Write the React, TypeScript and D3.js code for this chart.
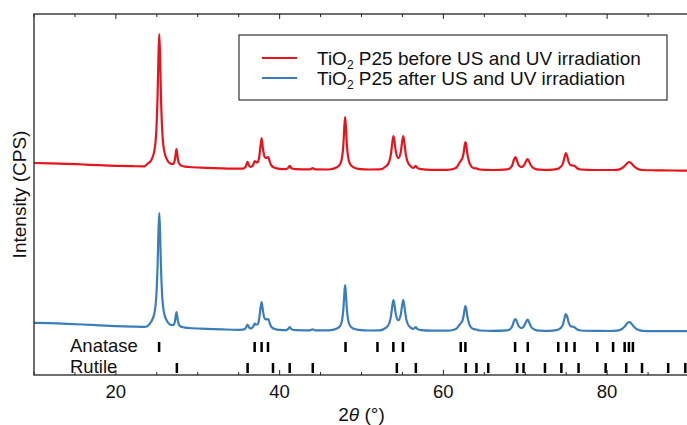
import React from 'react';
import * as d3 from 'd3';

type P = [number, number];

// 2θ (°), intensity (CPS, offset for display)
const beforeUS: P[] = [
  [10.0,2120],[12.0,2117],[14.0,2112],[16.0,2105],[18.0,2098],[20.0,2092],[22.0,2088],[23.5,2086],[23.9,2115],
  [24.3,2146],[24.7,2241],[24.95,2460],[25.1,2811],[25.2,3183],[25.3,3410],[25.4,3183],[25.5,2811],[25.65,2460],[25.9,2241],[26.3,2146],
  [26.6,2118],[27.0,2110],[27.2,2150],[27.3,2206],[27.4,2260],[27.5,2206],[27.6,2148],[27.8,2105],[28.2,2088],[29.0,2080],[31.0,2072],[33.0,2066],[35.0,2063],
  [35.5,2064],[35.8,2078],[35.95,2105],[36.08,2132],[36.2,2105],[36.4,2082],[36.6,2085],[36.8,2105],[36.95,2140],[37.1,2130],[37.3,2125],
  [37.5,2175],[37.65,2280],[37.8,2370],[37.95,2270],[38.1,2200],[38.3,2170],[38.5,2175],[38.62,2180],[38.8,2130],[39.0,2095],[39.4,2072],[40.0,2062],
  [40.8,2059],[41.05,2072],[41.25,2092],[41.45,2068],[42.0,2058],[43.7,2056],[44.05,2068],[44.35,2056],[46.0,2055],
  [47.0,2078],[47.4,2110],[47.65,2186],[47.8,2319],[47.9,2476],[48.0,2580],[48.1,2476],[48.2,2319],[48.35,2186],[48.6,2110],[49.0,2078],[49.6,2062],[51.0,2055],[52.2,2056],
  [53.0,2087],[53.4,2139],[53.6,2214],[53.75,2315],[53.9,2390],[54.05,2323],[54.2,2231],[54.5,2168],[54.8,2231],[54.95,2323],[55.1,2390],[55.25,2315],[55.4,2214],[55.6,2139],[56.0,2087],
  [56.3,2070],[56.5,2082],[56.62,2092],[56.8,2072],[57.3,2058],[58.5,2052],[60.5,2052],
  [61.3,2062],[61.7,2085],[61.95,2120],[62.15,2145],[62.35,2175],[62.5,2235],[62.6,2295],[62.7,2330],[62.8,2295],[62.9,2230],[63.05,2160],[63.3,2100],[63.7,2068],[64.05,2066],[64.4,2055],[66.0,2050],
  [67.8,2056],[68.2,2072],[68.45,2105],[68.65,2160],[68.8,2180],[68.95,2155],[69.15,2105],[69.5,2078],[69.8,2092],[70.0,2120],[70.18,2152],[70.3,2160],[70.45,2138],[70.7,2095],[71.1,2066],[71.7,2054],[73.0,2052],
  [73.8,2058],[74.3,2080],[74.6,2115],[74.8,2175],[74.95,2220],[75.1,2195],[75.3,2130],[75.55,2098],[75.8,2095],[76.0,2092],[76.3,2070],[76.8,2055],[78.5,2050],[80.3,2050],
  [81.2,2052],[81.8,2068],[82.2,2095],[82.5,2122],[82.7,2130],[82.95,2118],[83.25,2090],[83.7,2062],[84.3,2050],[86.0,2047],[88.0,2045],[90.0,2044],
];

const afterUS: P[] = [
  [10.0,522],[12.0,518],[14.0,512],[16.0,505],[18.0,496],[20.0,489],[22.0,484],[23.5,481],[23.9,492],
  [24.3,532],[24.7,615],[24.95,803],[25.1,1105],[25.2,1425],[25.3,1620],[25.4,1425],[25.5,1105],[25.65,803],[25.9,615],[26.3,532],
  [26.6,505],[27.0,498],[27.2,531],[27.3,582],[27.4,630],[27.5,582],[27.6,531],[27.8,492],[28.2,478],[29.0,470],[31.0,462],[33.0,456],[35.0,452],
  [35.5,453],[35.8,464],[35.95,485],[36.08,505],[36.2,485],[36.4,466],[36.6,470],[36.8,488],[36.95,515],[37.1,505],[37.3,505],
  [37.5,560],[37.65,660],[37.8,730],[37.95,650],[38.1,580],[38.3,555],[38.5,558],[38.62,560],[38.8,515],[39.0,480],[39.4,460],[40.0,451],
  [40.8,449],[41.05,462],[41.25,478],[41.45,458],[42.0,448],[43.7,447],[44.05,456],[44.35,447],[46.0,446],
  [47.0,464],[47.4,492],[47.65,558],[47.8,674],[47.9,809],[48.0,900],[48.1,809],[48.2,674],[48.35,558],[48.6,492],[49.0,464],[49.6,452],[51.0,445],[52.2,446],
  [53.0,474],[53.4,520],[53.6,589],[53.75,682],[53.9,750],[54.05,689],[54.2,605],[54.5,548],[54.8,605],[54.95,689],[55.1,750],[55.25,682],[55.4,589],[55.6,520],[56.0,474],
  [56.3,460],[56.5,472],[56.62,480],[56.8,462],[57.3,448],[58.5,443],[60.5,443],
  [61.3,452],[61.7,472],[61.95,500],[62.15,520],[62.35,548],[62.5,605],[62.6,660],[62.7,690],[62.8,660],[62.9,600],[63.05,540],[63.3,485],[63.7,458],[64.05,455],[64.4,445],[66.0,441],
  [67.8,446],[68.2,462],[68.45,495],[68.65,545],[68.8,560],[68.95,540],[69.15,495],[69.5,468],[69.8,482],[70.0,515],[70.18,545],[70.3,555],[70.45,530],[70.7,485],[71.1,456],[71.7,444],[73.0,442],
  [73.8,448],[74.3,468],[74.6,505],[74.8,570],[74.95,610],[75.1,590],[75.3,525],[75.55,488],[75.8,482],[76.0,478],[76.3,458],[76.8,445],[78.5,441],[80.3,440],
  [81.2,444],[81.8,460],[82.2,490],[82.5,522],[82.7,530],[82.95,515],[83.25,485],[83.7,455],[84.3,442],[86.0,439],[88.0,438],[90.0,438],
];

const anataseRefs = [25.28, 36.95, 37.8, 38.58, 48.05, 51.95, 53.89, 55.06, 62.12, 62.69, 68.76, 70.31, 74.03, 75.03, 76.02, 78.8, 80.73, 82.14, 82.66, 83.15];
const rutileRefs = [27.45, 36.09, 39.19, 41.23, 44.05, 54.32, 56.64, 62.74, 64.04, 65.48, 69.01, 69.79, 72.41, 74.41, 76.51, 79.82, 82.33, 84.26, 87.46, 89.55];

const majorTicks = [20, 40, 60, 80];
const seriesNames = ['before US and UV irradiation', 'after US and UV irradiation'];
const seriesColors = ['#e8141c', '#3a7dbd'];

const FONT = '"Liberation Sans", Arial, sans-serif';

export default function App() {
  const W = 687, H = 425;
  const left = 34, right = 689, top = 14, bottom = 375;
  const x = d3.scaleLinear().domain([10, 90]).range([left, right]);
  const y = d3.scaleLinear().domain([0, 3610]).range([bottom, top]);
  const line = d3.line<P>().x(d => x(d[0])).y(d => y(d[1])).curve(d3.curveMonotoneX);
  const minorTicks = x.ticks(16).filter(t => !majorTicks.includes(t));
  const series = [beforeUS, afterUS];

  return (
    <svg width={W} height={H} style={{ position: 'absolute', left: 0, top: 0, background: '#fff' }} fontFamily={FONT}>
      <defs>
        <clipPath id="plotclip"><rect x={left} y={top} width={right - left} height={bottom - top} /></clipPath>
      </defs>
      <g clipPath="url(#plotclip)">
        {series.map((s, i) => (
          <path key={i} d={line(s) || ''} fill="none" stroke={seriesColors[i]} strokeWidth={2.2} strokeLinejoin="round" />
        ))}
      </g>
      {/* reference patterns */}
      <text x={70} y={352} fontSize={18.5} fill="#111">Anatase</text>
      <text x={70} y={373} fontSize={18.5} fill="#111">Rutile</text>
      {anataseRefs.map((v, i) => (
        <rect key={'a' + i} x={x(v) - 1.25} y={342} width={2.5} height={10} fill="#000" />
      ))}
      {rutileRefs.map((v, i) => (
        <rect key={'r' + i} x={x(v) - 1.25} y={363} width={2.5} height={10} fill="#000" />
      ))}
      {/* frame */}
      <rect x={left} y={top} width={right - left} height={bottom - top} fill="none" stroke="#222" strokeWidth={1.3} />
      {majorTicks.map(t => (
        <g key={'M' + t}>
          <line x1={x(t)} x2={x(t)} y1={bottom} y2={bottom - 5} stroke="#222" strokeWidth={1} />
          <line x1={x(t)} x2={x(t)} y1={top} y2={top + 5} stroke="#222" strokeWidth={1} />
          <text x={x(t)} y={398} fontSize={18.5} textAnchor="middle" fill="#111">{t}</text>
        </g>
      ))}
      {minorTicks.map(t => (
        <g key={'m' + t}>
          <line x1={x(t)} x2={x(t)} y1={bottom} y2={bottom - 3} stroke="#222" strokeWidth={1} />
          <line x1={x(t)} x2={x(t)} y1={top} y2={top + 3} stroke="#222" strokeWidth={1} />
        </g>
      ))}
      <text x={(left + right) / 2} y={421} fontSize={19} textAnchor="middle" fill="#111">
        2<tspan fontStyle="italic">θ</tspan> (°)
      </text>
      <text transform={`translate(26,${(top + bottom) / 2}) rotate(-90)`} fontSize={19} textAnchor="middle" fill="#111">
        Intensity (CPS)
      </text>
      {/* legend */}
      <rect x={239} y={35} width={428} height={65} fill="#fff" stroke="#333" strokeWidth={1.2} />
      {seriesNames.map((n, i) => (
        <g key={'l' + i}>
          <line x1={262} x2={297} y1={58 + i * 20} y2={58 + i * 20} stroke={seriesColors[i]} strokeWidth={2.2} />
          <text x={317} y={65 + i * 20} fontSize={19} fill="#111">
            TiO<tspan fontSize={12} dy={4}>2</tspan><tspan dy={-4}> P25 {n}</tspan>
          </text>
        </g>
      ))}
    </svg>
  );
}
